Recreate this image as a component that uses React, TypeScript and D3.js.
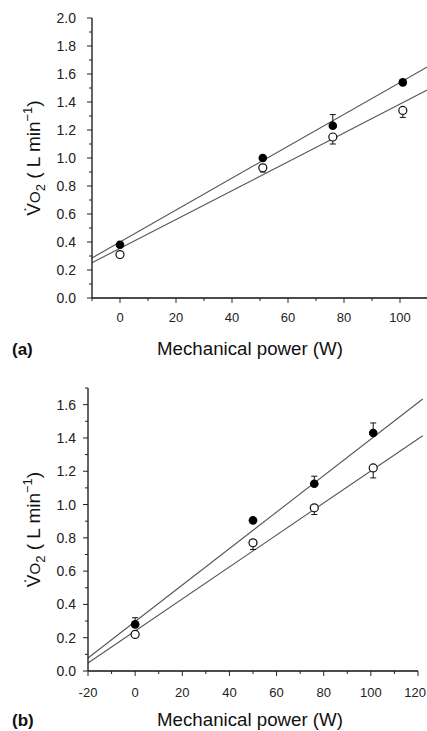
import React from "react";
import * as d3 from "d3";

// Panel (a) data
const aPower = [0, 51, 76, 101];
const aFilled = [0.38, 1.0, 1.23, 1.54];
const aOpen = [0.31, 0.93, 1.15, 1.34];
const aFilledErrUp = [null, null, 1.31, null];
const aOpenErrDown = [null, 0.9, 1.1, 1.29];
const aFitFilled = [0.4, 0.0114]; // intercept, slope
const aFitOpen = [0.355, 0.0103];
const aXTicks = [0, 20, 40, 60, 80, 100];
const aYTicks = [0, 0.2, 0.4, 0.6, 0.8, 1.0, 1.2, 1.4, 1.6, 1.8, 2.0];

// Panel (b) data
const bPower = [0, 50, 76, 101];
const bFilled = [0.28, 0.905, 1.125, 1.43];
const bOpen = [0.22, 0.77, 0.98, 1.22];
const bFilledErrUp = [0.32, null, 1.17, 1.49];
const bOpenErrDown = [null, 0.73, 0.94, 1.16];
const bFitFilled = [0.297, 0.01096];
const bFitOpen = [0.24, 0.00962];
const bXTicks = [-20, 0, 20, 40, 60, 80, 100, 120];
const bYTicks = [0, 0.2, 0.4, 0.6, 0.8, 1.0, 1.2, 1.4, 1.6];

const FONT = "'Liberation Sans', Arial, Helvetica, sans-serif";

type PanelProps = {
  xDomain: [number, number];
  xRange: [number, number];
  yDomain: [number, number];
  yRange: [number, number];
  lineX: [number, number];
  power: number[];
  filled: number[];
  open: number[];
  filledErrUp: (number | null)[];
  openErrDown: (number | null)[];
  fitFilled: number[];
  fitOpen: number[];
  xTicks: number[];
  yTicks: number[];
  tag: string;
  xLabelY: number;
  titleY: number;
  yTitleX: number;
};

function Panel(p: PanelProps) {
  const x = d3.scaleLinear().domain(p.xDomain).range(p.xRange);
  const y = d3.scaleLinear().domain(p.yDomain).range(p.yRange);
  const x0 = p.xRange[0];
  const yb = p.yRange[0];
  const yt = p.yRange[1];
  const minorX = d3.range(p.xDomain[0], p.xDomain[1] + 0.001, 10);
  const minorY = d3.range(p.yDomain[0], p.yDomain[1] + 0.001, 0.1);
  const fitPath = (fit: number[]) =>
    d3
      .line<number>()
      .x((d) => x(d))
      .y((d) => y(fit[0] + fit[1] * d))(p.lineX);
  const fmt = d3.format(".1f");
  const cap = 3;
  const yMid = (yb + yt) / 2;
  return (
    <g>
      {/* fit lines */}
      <path d={fitPath(p.fitFilled) || ""} fill="none" stroke="#555" strokeWidth={1.1} />
      <path d={fitPath(p.fitOpen) || ""} fill="none" stroke="#555" strokeWidth={1.1} />
      {/* axes */}
      <line x1={x0} x2={x0} y1={yb} y2={yt} stroke="#111" strokeWidth={1.3} />
      <line x1={x0} x2={p.xRange[1]} y1={yb} y2={yb} stroke="#111" strokeWidth={1.3} />
      {minorY.map((v, i) => (
        <line key={"my" + i} x1={x0} x2={x0 - (i % 2 === 0 ? 5 : 3)} y1={y(v)} y2={y(v)} stroke="#222" strokeWidth={1} />
      ))}
      {minorX.map((v, i) => (
        <line key={"mx" + i} x1={x(v)} x2={x(v)} y1={yb} y2={yb + (Math.round(v) % 20 === 0 ? 5 : 3)} stroke="#222" strokeWidth={1} />
      ))}
      {p.yTicks.map((v) => (
        <text key={"yt" + v} x={76} y={y(v)} dy="0.36em" textAnchor="end" fontSize={14} fontFamily={FONT} fill="#222">
          {fmt(v)}
        </text>
      ))}
      {p.xTicks.map((v) => {
        const cx = x(v);
        const atEdge = cx + 11 > 426;
        return (
          <text
            key={"xt" + v}
            x={atEdge ? 426 : cx}
            y={p.xLabelY}
            textAnchor={atEdge ? "end" : "middle"}
            fontSize={13}
            fontFamily={FONT}
            fill="#222"
          >
            {v}
          </text>
        );
      })}
      {/* error bars */}
      {p.power.map((w, i) => {
        const e = p.filledErrUp[i];
        if (e == null) return null;
        return (
          <g key={"fe" + i} stroke="#111" strokeWidth={1}>
            <line x1={x(w)} x2={x(w)} y1={y(p.filled[i])} y2={y(e)} />
            <line x1={x(w) - cap} x2={x(w) + cap} y1={y(e)} y2={y(e)} />
          </g>
        );
      })}
      {p.power.map((w, i) => {
        const e = p.openErrDown[i];
        if (e == null) return null;
        return (
          <g key={"oe" + i} stroke="#111" strokeWidth={1}>
            <line x1={x(w)} x2={x(w)} y1={y(p.open[i])} y2={y(e)} />
            <line x1={x(w) - cap} x2={x(w) + cap} y1={y(e)} y2={y(e)} />
          </g>
        );
      })}
      {/* markers */}
      {p.power.map((w, i) => (
        <circle key={"o" + i} cx={x(w)} cy={y(p.open[i])} r={4} fill="#fff" stroke="#111" strokeWidth={1.2} />
      ))}
      {p.power.map((w, i) => (
        <circle key={"f" + i} cx={x(w)} cy={y(p.filled[i])} r={4.3} fill="#000" />
      ))}
      {/* titles */}
      <text x={12} y={p.titleY} fontSize={17} fontWeight="bold" fontFamily={FONT} fill="#111">
        {p.tag}
      </text>
      <text x={250} y={p.titleY} textAnchor="middle" fontSize={18.7} fontFamily={FONT} fill="#111">
        Mechanical power (W)
      </text>
      <text
        transform={`translate(${p.yTitleX},${yMid}) rotate(-90)`}
        textAnchor="middle"
        fontSize={19}
        fontFamily={FONT}
        fill="#111"
      >
        {"V\u0307"}
        <tspan fontSize={15}>O</tspan>
        <tspan fontSize={13} dy={5}>2</tspan>
        <tspan dy={-5}>{" ( L  min"}</tspan>
        <tspan fontSize={13} dy={-8}>{"\u22121"}</tspan>
        <tspan dy={8}>)</tspan>
      </text>
    </g>
  );
}

export default function App() {
  return (
    <svg
      width={427}
      height={731}
      style={{ position: "absolute", left: 0, top: 0, background: "#fff" }}
    >
      <rect width={427} height={731} fill="#fff" />
      <Panel
        xDomain={[-10, 110]}
        xRange={[92, 428]}
        yDomain={[0, 2.0]}
        yRange={[298, 18]}
        lineX={[-10, 110]}
        power={aPower}
        filled={aFilled}
        open={aOpen}
        filledErrUp={aFilledErrUp}
        openErrDown={aOpenErrDown}
        fitFilled={aFitFilled}
        fitOpen={aFitOpen}
        xTicks={aXTicks}
        yTicks={aYTicks}
        tag="(a)"
        xLabelY={322}
        titleY={355}
        yTitleX={40}
      />
      <Panel
        xDomain={[-20, 120]}
        xRange={[88, 418]}
        yDomain={[0, 1.7]}
        yRange={[671, 388]}
        lineX={[-20, 122]}
        power={bPower}
        filled={bFilled}
        open={bOpen}
        filledErrUp={bFilledErrUp}
        openErrDown={bOpenErrDown}
        fitFilled={bFitFilled}
        fitOpen={bFitOpen}
        xTicks={bXTicks}
        yTicks={bYTicks}
        tag="(b)"
        xLabelY={697}
        titleY={726}
        yTitleX={40}
      />
    </svg>
  );
}
